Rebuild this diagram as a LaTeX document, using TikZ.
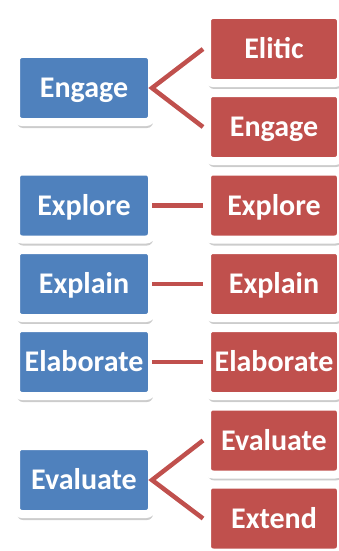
\documentclass[tikz,border=0pt]{standalone}
\usepackage{fontspec}
\setmainfont{Carlito}
\usetikzlibrary{shadows}
\definecolor{stageblue}{HTML}{4F81BD}
\definecolor{stagered}{HTML}{C0504D}
\tikzset{
  box/.style={draw=white, line width=8pt, rounded corners=6pt, text=white,
    font=\fontsize{30}{32}\selectfont\bfseries, text height=19pt, text depth=0pt,
    minimum height=68pt,
    drop shadow={shadow xshift=1pt, shadow yshift=-6pt, fill=black, opacity=.2}},
  phase/.style={box, fill=stageblue, minimum width=136pt},
  task/.style={box, fill=stagered, minimum width=134pt},
  link/.style={stagered, line width=4.5pt}
}

\begin{document}
\begin{tikzpicture}[x=1pt, y=-1pt]
% Page frame, right side cuts the red boxes
\useasboundingbox (0,0) rectangle (339,551);
\clip (0,0) rectangle (339,551);
% Left column of phases
\node[phase] (engage) at (84,88) {Engage};
\node[phase] (explore) at (84,205.5) {Explore};
\node[phase] (explain) at (84,284) {Explain};
\node[phase] (elaborate) at (84,362) {Elaborate};
\node[phase] (evaluate) at (84,480) {Evaluate};
% Right column
\node[task] (elitic) at (274,49) {Elitic};
\node[task] (engageb) at (274,127) {Engage};
\node[task] (exploreb) at (274,205.5) {Explore};
\node[task] (explainb) at (274,284) {Explain};
\node[task] (elaborateb) at (274,362) {Elaborate};
\node[task] (evaluateb) at (274,440.5) {Evaluate};
\node[task] (extend) at (274,518.5) {Extend};
% Connectors start inside the white rim of the blue boxes
\draw[link] (elitic.west) -- ([xshift=-4pt]engage.east) -- (engageb.west);
\draw[link] ([xshift=-4pt]explore.east) -- (exploreb.west);
\draw[link] ([xshift=-4pt]explain.east) -- (explainb.west);
\draw[link] ([xshift=-4pt]elaborate.east) -- (elaborateb.west);
\draw[link] (evaluateb.west) -- ([xshift=-4pt]evaluate.east) -- (extend.west);
\end{tikzpicture}
\end{document}
